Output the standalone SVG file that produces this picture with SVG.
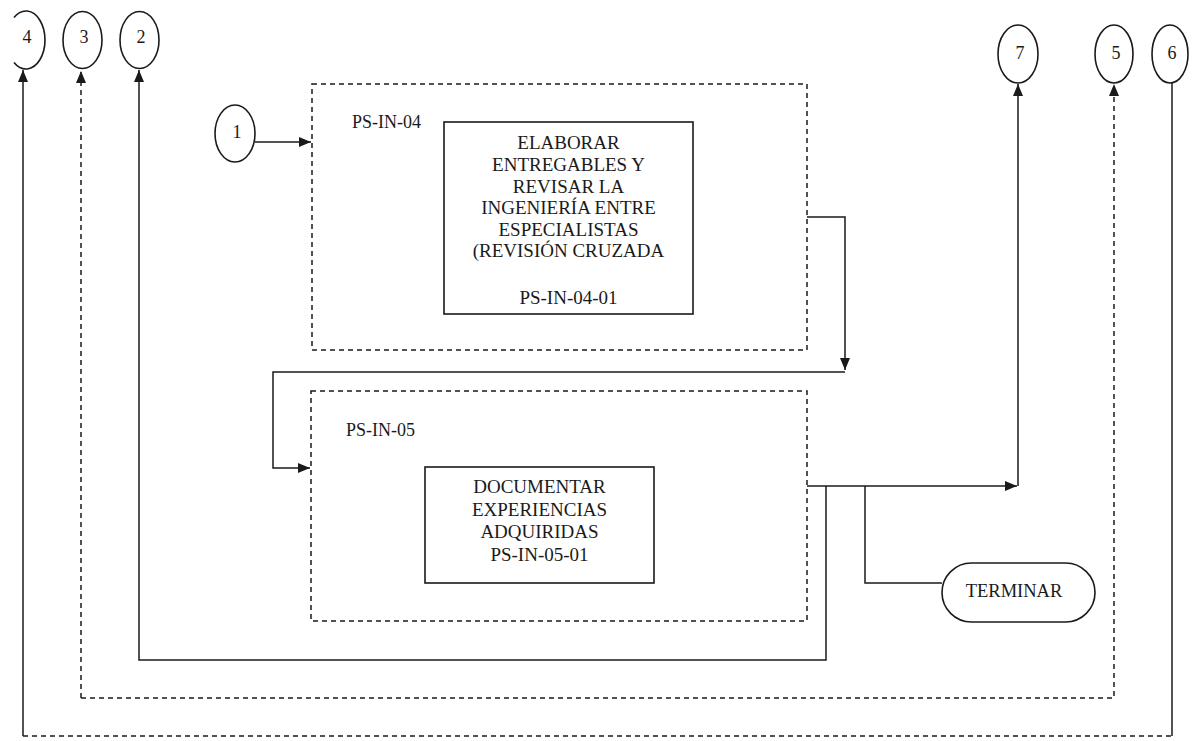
<svg xmlns="http://www.w3.org/2000/svg" width="1196" height="741" viewBox="0 0 1196 741">
<style>
text{font-family:"Liberation Serif","Times New Roman",serif;fill:#1a1a1a;font-size:19px;text-anchor:middle}
.lbl{text-anchor:start}
.solid{fill:none;stroke:#1a1a1a;stroke-width:1.5}
.dash{fill:none;stroke:#1a1a1a;stroke-width:1.5;stroke-dasharray:5 4}
.conn{fill:none;stroke:#1a1a1a;stroke-width:1.5}
.conn-d{fill:none;stroke:#1a1a1a;stroke-width:1.5;stroke-dasharray:5 4}
.node{fill:#fff;stroke:#1a1a1a;stroke-width:1.6}
</style>
<defs>
<marker id="arr" viewBox="0 0 12 10" refX="12" refY="5" markerWidth="12" markerHeight="10" markerUnits="userSpaceOnUse" orient="auto">
<path d="M0,0 L12,5 L0,10 Z" fill="#1a1a1a"/>
</marker>
</defs>
<rect width="1196" height="741" fill="#fff"/>

<g id="connectors">
<path class="conn" d="M255,142 H311" marker-end="url(#arr)"/>
<path class="conn" d="M807,217 H845 V370" marker-end="url(#arr)"/>
<path class="conn" d="M845,372 H273 V468 H310" marker-end="url(#arr)"/>
<path class="conn" d="M807,486 H1017" marker-end="url(#arr)"/>
<path class="conn" d="M1018,486 V84" marker-end="url(#arr)"/>
<path class="conn" d="M826,486 V660 H139 V70" marker-end="url(#arr)"/>
<path class="conn" d="M865,486 V583 H942"/>
<path class="conn-d" d="M81,698 V71" marker-end="url(#arr)"/>
<path class="conn-d" d="M81,698 H1114 V84" marker-end="url(#arr)"/>
<path class="conn" d="M23,736 V70" marker-end="url(#arr)"/>
<path class="conn-d" d="M23,736 H1172"/>
<path class="conn" d="M1172,736 V83"/>
</g>

<g id="conn4">
<path class="node" style="fill:none" d="M14,17.5 A19,29 0 1 1 14,62.5"/>
<text x="27" y="43" style="font-size:18px">4</text>
</g>
<g id="conn3">
<ellipse class="node" cx="82.5" cy="40" rx="19.5" ry="28.5"/>
<text x="84" y="43" style="font-size:18px">3</text>
</g>
<g id="conn2">
<ellipse class="node" cx="139.5" cy="40" rx="19.5" ry="28.5"/>
<text x="141" y="43" style="font-size:18px">2</text>
</g>
<g id="conn1">
<ellipse class="node" cx="235" cy="133.5" rx="20" ry="28.5"/>
<text x="237" y="138" style="font-size:18px">1</text>
</g>
<g id="conn7">
<ellipse class="node" cx="1018" cy="54" rx="20" ry="29"/>
<text x="1020" y="59" style="font-size:18px">7</text>
</g>
<g id="conn5">
<ellipse class="node" cx="1114" cy="54" rx="19" ry="29"/>
<text x="1116" y="59" style="font-size:18px">5</text>
</g>
<g id="conn6">
<ellipse class="node" cx="1170" cy="54" rx="18" ry="29"/>
<text x="1172" y="59" style="font-size:18px">6</text>
</g>

<g id="ps-in-04">
<rect class="dash" x="312" y="84" width="495" height="266"/>
<text class="lbl" x="352" y="128" style="font-size:18px">PS-IN-04</text>
</g>
<g id="ps-in-04-01">
<rect class="node" x="444" y="122" width="249" height="192"/>
<text x="568.5" y="149">ELABORAR</text>
<text x="568.5" y="171">ENTREGABLES Y</text>
<text x="568.5" y="193">REVISAR LA</text>
<text x="568.5" y="214">INGENIERÍA ENTRE</text>
<text x="568.5" y="236">ESPECIALISTAS</text>
<text x="568.5" y="257">(REVISIÓN CRUZADA</text>
<text x="568.5" y="304">PS-IN-04-01</text>
</g>

<g id="ps-in-05">
<rect class="dash" x="311" y="391" width="496" height="230"/>
<text class="lbl" x="346" y="436" style="font-size:18px">PS-IN-05</text>
</g>
<g id="ps-in-05-01">
<rect class="node" x="425" y="467" width="229" height="116"/>
<text x="539.5" y="493">DOCUMENTAR</text>
<text x="539.5" y="516">EXPERIENCIAS</text>
<text x="539.5" y="538">ADQUIRIDAS</text>
<text x="539.5" y="561">PS-IN-05-01</text>
</g>

<g id="terminar">
<rect class="node" x="942" y="563" width="153" height="59" rx="29.5" ry="29.5"/>
<text x="1014" y="597" style="font-size:18.5px">TERMINAR</text>
</g>
</svg>
